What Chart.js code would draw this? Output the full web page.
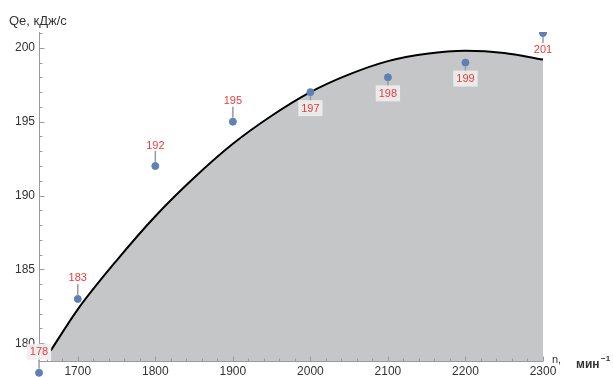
<!DOCTYPE html>
<html>
<head>
    <meta charset="utf-8">
    <title>Qe (n)</title>
    <script src="https://cdn.jsdelivr.net/npm/chart.js@4/dist/chart.umd.min.js"></script>
    <style>
        html, body { margin: 0; padding: 0; background: #ffffff; }
        #wrap { width: 613px; height: 377px; position: relative; }
    </style>
</head>
<body>
<div id="wrap">
    <canvas id="qeChart" width="613" height="377"></canvas>
</div>
<script>
    // measured points
    const rpm = [1650, 1700, 1800, 1900, 2000, 2100, 2200, 2300];
    const qe = [178, 183, 192, 195, 197, 198, 199, 201];

    // fitted curve
    const curveRpm = [1665, 1700, 1750, 1800, 1850, 1900, 1950, 2000, 2050, 2100, 2150, 2200, 2250, 2300];
    const curveQe = [179.5, 182.3, 185.6, 188.6, 191.2, 193.5, 195.4, 197.0, 198.2, 199.1, 199.6, 199.8, 199.65, 199.2];

    // axes
    const xTicks = [1700, 1800, 1900, 2000, 2100, 2200, 2300];
    const yTicks = [180, 185, 190, 195, 200];

    // where each callout goes
    const labelSide = ['above', 'above', 'above', 'above', 'below', 'below', 'below', 'below'];
    const labelBox = [true, false, false, false, true, true, true, false];

    const axisColor = '#9a9a9a';

    // axes lines, inward ticks, titles
    const axesPlugin = {
        id: 'axesPlugin',
        afterDatasetsDraw(chart) {
            const ctx = chart.ctx;
            const xs = chart.scales.x;
            const ys = chart.scales.y;
            const area = chart.chartArea;
            ctx.save();
            ctx.strokeStyle = axisColor;
            ctx.lineWidth = 1;

            const ax = Math.round(area.left) + 0.5;
            const ay = Math.round(area.bottom) + 0.5;
            ctx.beginPath();
            ctx.moveTo(ax, area.top);
            ctx.lineTo(ax, ay);
            ctx.lineTo(area.right, ay);
            ctx.stroke();

            // y ticks: every 1, long every 5
            for (let v = 179; v <= 201; v++) {
                const y = Math.round(ys.getPixelForValue(v)) + 0.5;
                const len = v % 5 === 0 ? 5 : 3;
                ctx.beginPath();
                ctx.moveTo(ax, y);
                ctx.lineTo(ax + len, y);
                ctx.stroke();
            }
            // x ticks: every 20, long every 100
            for (let v = 1660; v <= 2300; v += 20) {
                const x = Math.round(xs.getPixelForValue(v)) + 0.5;
                const len = v % 100 === 0 ? 5 : 3;
                ctx.beginPath();
                ctx.moveTo(x, ay);
                ctx.lineTo(x, ay - len);
                ctx.stroke();
            }

            // axis titles
            ctx.fillStyle = '#333333';
            ctx.textBaseline = 'alphabetic';
            ctx.textAlign = 'left';
            ctx.font = '13px "Liberation Sans", Arial, sans-serif';
            ctx.fillText('Qe, кДж/с', 9, 25);

            ctx.font = '11px "Liberation Sans", Arial, sans-serif';
            ctx.fillText('n,', 552, 363);
            ctx.font = 'bold 12px "Liberation Sans", Arial, sans-serif';
            ctx.fillText('мин', 576, 368);
            ctx.font = 'bold 8px "Liberation Sans", Arial, sans-serif';
            ctx.fillText('−1', 601, 361);
            ctx.restore();
        }
    };

    // red value callouts (and markers that sit below the axis)
    const calloutPlugin = {
        id: 'calloutPlugin',
        afterDatasetsDraw(chart) {
            const ctx = chart.ctx;
            const meta = chart.getDatasetMeta(1);
            const area = chart.chartArea;
            const whole = { left: 0, top: 0, right: chart.width, bottom: chart.height };
            ctx.save();
            meta.data.forEach(pt => {
                if (pt.y > area.bottom + 3) pt.draw(ctx, whole);
            });
            ctx.font = '11px "Liberation Sans", Arial, sans-serif';
            ctx.textAlign = 'center';
            ctx.textBaseline = 'middle';
            meta.data.forEach((pt, i) => {
                const px = pt.x;
                const py = pt.y;
                const txt = String(qe[i]);
                const up = labelSide[i] === 'above';
                const ly = up ? py - 21 : py + 16;

                ctx.strokeStyle = '#9a9a9a';
                ctx.lineWidth = 1.5;
                ctx.beginPath();
                if (up) {
                    ctx.moveTo(px, py - 4);
                    ctx.lineTo(px, ly + 6);
                } else {
                    ctx.moveTo(px, py + 4);
                    ctx.lineTo(px, ly - 6);
                }
                ctx.stroke();

                if (labelBox[i]) {
                    const w = ctx.measureText(txt).width;
                    ctx.fillStyle = 'rgba(238,238,238,0.9)';
                    ctx.fillRect(px - w / 2 - 3, ly - 8, w + 6, 16);
                }
                ctx.fillStyle = '#f03a3a';
                ctx.fillText(txt, px, ly + 0.5);
            });
            ctx.restore();
        }
    };

    const tickFont = { family: '"Liberation Sans", Arial, sans-serif', size: 12, lineHeight: 1 };

    const ctx = document.getElementById('qeChart').getContext('2d');
    const qeChart = new Chart(ctx, {
        type: 'scatter',
        data: {
            datasets: [{
                label: 'fit',
                type: 'line',
                data: curveRpm.map((n, i) => ({ x: n, y: curveQe[i] })),
                borderColor: '#000000',
                borderWidth: 2,
                backgroundColor: '#c4c6c7',
                fill: 'start',
                pointRadius: 0,
                cubicInterpolationMode: 'monotone',
                order: 2
            }, {
                label: 'Qe',
                data: rpm.map((n, i) => ({ x: n, y: qe[i] })),
                backgroundColor: '#5e81b5',
                borderColor: '#5e81b5',
                pointRadius: 3.5,
                pointHoverRadius: 3.5,
                clip: { left: 10, top: 0, right: 10, bottom: 20 },
                order: 1
            }]
        },
        options: {
            responsive: false,
            animation: false,
            layout: {
                padding: { left: 11, right: 70, top: 32, bottom: -6 }
            },
            plugins: {
                legend: { display: false },
                tooltip: { enabled: false }
            },
            scales: {
                x: {
                    type: 'linear',
                    min: 1650,
                    max: 2300,
                    afterBuildTicks: scale => { scale.ticks = xTicks.map(v => ({ value: v })); },
                    grid: { display: false, drawTicks: false, tickLength: 0 },
                    border: { display: false },
                    ticks: {
                        padding: 5,
                        color: '#333333',
                        maxRotation: 0,
                        font: tickFont,
                        callback: v => String(v)
                    }
                },
                y: {
                    min: 178.8,
                    max: 201.07,
                    afterBuildTicks: scale => { scale.ticks = yTicks.map(v => ({ value: v })); },
                    grid: { display: false, drawTicks: false, tickLength: 0 },
                    border: { display: false },
                    ticks: {
                        padding: 4,
                        color: '#333333',
                        font: tickFont,
                        callback: v => String(v)
                    }
                }
            }
        },
        plugins: [axesPlugin, calloutPlugin]
    });
</script>
</body>
</html>
